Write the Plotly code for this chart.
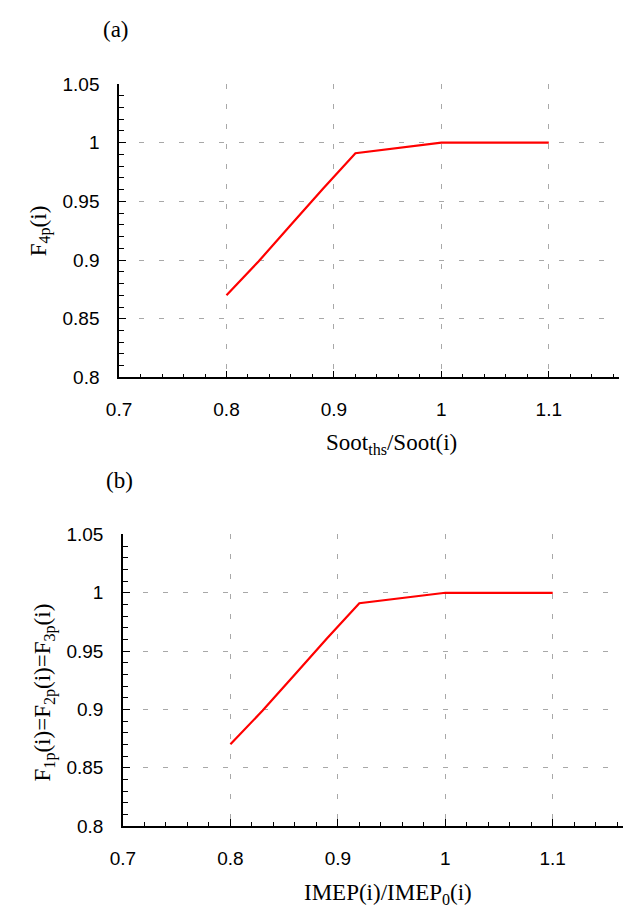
import plotly.graph_objects as go

W, H = 627, 922

# data
ratio_a = [0.80, 0.83, 0.86, 0.89, 0.92, 1.00, 1.10]
f4p = [0.870, 0.899, 0.930, 0.961, 0.991, 1.000, 1.000]
ratio_b = [0.80, 0.83, 0.86, 0.89, 0.92, 1.00, 1.10]
f123p = [0.870, 0.899, 0.930, 0.961, 0.991, 1.000, 1.000]
x_ticks = [0.7, 0.8, 0.9, 1.0, 1.1]
x_ticklabels = ["0.7", "0.8", "0.9", "1", "1.1"]
y_ticks = [0.8, 0.85, 0.9, 0.95, 1.0, 1.05]
y_ticklabels = ["0.8", "0.85", "0.9", "0.95", "1", "1.05"]


def px_x(p):
    return p / W


def px_y(p):
    return 1 - p / H


fig = go.Figure()
fig.add_trace(go.Scatter(x=ratio_a, y=f4p, mode="lines",
                         line=dict(color="#ff0000", width=2.2),
                         xaxis="x", yaxis="y", showlegend=False))
fig.add_trace(go.Scatter(x=ratio_b, y=f123p, mode="lines",
                         line=dict(color="#ff0000", width=2.2),
                         xaxis="x2", yaxis="y2", showlegend=False))

tickfont = dict(family="Liberation Sans, Arial, sans-serif", size=19, color="black")
serif = dict(family="Liberation Serif, Times New Roman, serif", size=23, color="black")
grid = dict(showgrid=True, gridcolor="#a8a8a8", griddash="5px,15px", gridwidth=1)

xcommon = dict(range=[0.7, 1.1655], tickvals=x_ticks, ticktext=x_ticklabels,
               ticks="inside", ticklen=7, tickwidth=1.3, tickcolor="black",
               minor=dict(dtick=0.02, tick0=0.7, ticks="inside", ticklen=4,
                          tickwidth=1, tickcolor="black", showgrid=False),
               showline=True, linecolor="black", linewidth=1.5,
               tickfont=tickfont, zeroline=False, ticklabelstandoff=14, **grid)
ycommon = dict(range=[0.8, 1.05], tickvals=y_ticks, ticktext=y_ticklabels,
               ticks="inside", ticklen=7, tickwidth=1.3, tickcolor="black",
               minor=dict(dtick=0.01, tick0=0.8, ticks="inside", ticklen=5,
                          tickwidth=1, tickcolor="black", showgrid=False),
               showline=True, linecolor="black", linewidth=1.5,
               tickfont=tickfont, zeroline=False, ticklabelstandoff=14, **grid)

fig.update_layout(
    width=W, height=H, margin=dict(l=0, r=0, t=0, b=0),
    paper_bgcolor="white", plot_bgcolor="white",
    xaxis=dict(domain=[px_x(108.3), px_x(619)], anchor="y", **xcommon),
    yaxis=dict(domain=[px_y(376), px_y(75.7)], anchor="x", **ycommon),
    xaxis2=dict(domain=[px_x(112.3), px_x(623)], anchor="y2", **xcommon),
    yaxis2=dict(domain=[px_y(835), px_y(536.7)], anchor="x2", **ycommon),
)

ann = [
    dict(text="(a)", x=px_x(105), y=px_y(20)),
    dict(text="Soot<sub>ths</sub>/Soot(i)", x=px_x(387), y=px_y(444)),
    dict(text="F<sub>4p</sub>(i)", x=px_x(28), y=px_y(226), textangle=-90),
    dict(text="(b)", x=px_x(109), y=px_y(481)),
    dict(text="IMEP(i)/IMEP<sub>0</sub>(i)", x=px_x(383), y=px_y(905)),
    dict(text="F<sub>1p</sub>(i)=F<sub>2p</sub>(i)=F<sub>3p</sub>(i)",
         x=px_x(32), y=px_y(698), textangle=-90),
]
for a in ann:
    fig.add_annotation(xref="paper", yref="paper", showarrow=False,
                       xanchor="center", yanchor="middle", font=serif, **a)

fig.write_html("out.html")
